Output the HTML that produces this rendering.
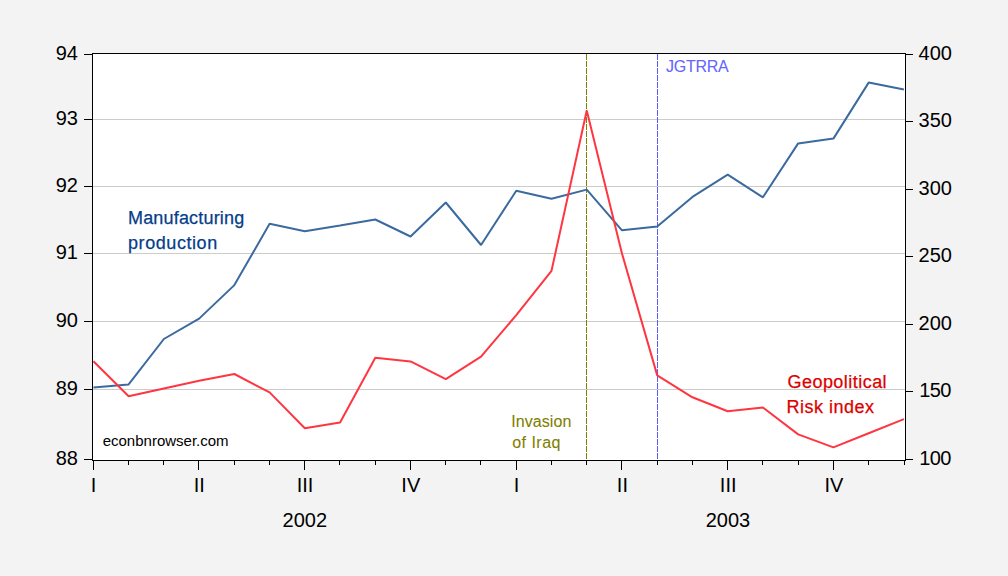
<!DOCTYPE html><html><head><meta charset="utf-8"><style>html,body{margin:0;padding:0;background:#f3f3f3;width:1008px;height:576px;overflow:hidden}svg{display:block}text{font-family:"Liberation Sans",sans-serif}</style></head><body>
<svg width="1008" height="576" viewBox="0 0 1008 576">
<rect x="0" y="0" width="1008" height="576" fill="#f3f3f3"/>
<rect x="92" y="53" width="814" height="408" fill="#ffffff"/>
<path d="M93 119.5H905 M93 186.5H905 M93 253.5H905 M93 321.5H905 M93 389.5H905" stroke="#cccccc" stroke-width="1" fill="none" shape-rendering="crispEdges"/>
<path d="M586.5 54V460" stroke="#808000" stroke-width="1" stroke-dasharray="6 1" fill="none" shape-rendering="crispEdges"/>
<path d="M657.5 54V460" stroke="#5a5aff" stroke-width="1" stroke-dasharray="6 1" fill="none" shape-rendering="crispEdges"/>
<svg x="92" y="53" width="814" height="408" viewBox="92 53 814 408" overflow="hidden">
<polyline points="93.40,387.50 128.64,384.40 163.88,339.00 199.12,318.60 234.36,285.10 269.60,223.80 304.83,231.25 340.07,225.50 375.31,219.50 410.55,236.50 445.79,202.50 481.03,245.00 516.27,190.80 551.51,198.80 586.75,189.60 621.98,230.30 657.22,226.50 692.46,196.90 727.70,174.70 762.94,197.30 798.18,143.40 833.42,138.60 868.66,82.60 903.90,89.50" fill="none" stroke="#3b6a9f" stroke-width="2" stroke-linejoin="bevel"/>
<polyline points="93.40,361.30 128.64,396.30 163.88,388.40 199.12,380.80 234.36,374.00 269.60,392.40 304.83,428.20 340.07,422.50 375.31,357.80 410.55,361.40 445.79,379.10 481.03,356.70 516.27,315.10 551.51,270.80 586.75,110.50 621.98,253.50 657.22,375.40 692.46,397.30 727.70,411.25 762.94,407.50 798.18,434.40 833.42,447.40 868.66,433.20 903.90,419.10" fill="none" stroke="#ff3641" stroke-width="2" stroke-linejoin="bevel"/>
</svg>
<path d="M92.5 53.5H905.5V460.5H92.5Z M84 54.5H92 M84 119.5H92 M84 186.5H92 M84 253.5H92 M84 321.5H92 M84 389.5H92 M84 459.5H92 M906 54.5H913 M906 121.5H913 M906 189.5H913 M906 256.5H913 M906 324.5H913 M906 391.5H913 M906 459.5H913 M93.5 461V470 M128.5 461V465 M163.5 461V465 M198.5 461V470 M234.5 461V465 M269.5 461V465 M304.5 461V470 M339.5 461V465 M375.5 461V465 M410.5 461V470 M445.5 461V465 M480.5 461V465 M516.5 461V470 M551.5 461V465 M586.5 461V465 M621.5 461V470 M657.5 461V465 M692.5 461V465 M727.5 461V470 M762.5 461V465 M798.5 461V465 M833.5 461V470 M868.5 461V465 M904.5 461V465" stroke="#000" stroke-width="1" fill="none" shape-rendering="crispEdges"/>
<text x="78" y="60" font-size="20" text-anchor="end" fill="#000">94</text>
<text x="78" y="125" font-size="20" text-anchor="end" fill="#000">93</text>
<text x="78" y="192" font-size="20" text-anchor="end" fill="#000">92</text>
<text x="78" y="259" font-size="20" text-anchor="end" fill="#000">91</text>
<text x="78" y="327" font-size="20" text-anchor="end" fill="#000">90</text>
<text x="78" y="395" font-size="20" text-anchor="end" fill="#000">89</text>
<text x="78" y="465" font-size="20" text-anchor="end" fill="#000">88</text>
<text x="918.6" y="60" font-size="20" fill="#000">400</text>
<text x="918.6" y="127" font-size="20" fill="#000">350</text>
<text x="918.6" y="195" font-size="20" fill="#000">300</text>
<text x="918.6" y="262" font-size="20" fill="#000">250</text>
<text x="918.6" y="330" font-size="20" fill="#000">200</text>
<text x="919.2" y="397" font-size="20" letter-spacing="-0.6" fill="#000">150</text>
<text x="919.2" y="465" font-size="20" letter-spacing="-0.6" fill="#000">100</text>
<text x="93.5" y="492" font-size="20" text-anchor="middle" fill="#000">I</text>
<text x="199.3" y="492" font-size="20" text-anchor="middle" fill="#000">II</text>
<text x="305.1" y="492" font-size="20" text-anchor="middle" fill="#000">III</text>
<text x="410.8" y="492" font-size="20" text-anchor="middle" fill="#000">IV</text>
<text x="516.6" y="492" font-size="20" text-anchor="middle" fill="#000">I</text>
<text x="622.4" y="492" font-size="20" text-anchor="middle" fill="#000">II</text>
<text x="728.2" y="492" font-size="20" text-anchor="middle" fill="#000">III</text>
<text x="834.0" y="492" font-size="20" text-anchor="middle" fill="#000">IV</text>
<text x="304.8" y="527" font-size="20" text-anchor="middle" fill="#000">2002</text>
<text x="728" y="527" font-size="20" text-anchor="middle" fill="#000">2003</text>
<text x="128" y="224" font-size="18" letter-spacing="0.18" fill="#053d8a" stroke="#053d8a" stroke-width="0.25">Manufacturing</text>
<text x="128" y="248.7" font-size="18" letter-spacing="0.57" fill="#053d8a" stroke="#053d8a" stroke-width="0.25">production</text>
<text x="787.5" y="387.8" font-size="18" letter-spacing="0.46" fill="#dd0000" stroke="#dd0000" stroke-width="0.25">Geopolitical</text>
<text x="786.6" y="412.7" font-size="18" letter-spacing="0.49" fill="#dd0000" stroke="#dd0000" stroke-width="0.25">Risk index</text>
<text x="511.2" y="426.7" font-size="16" letter-spacing="0.08" fill="#808000" stroke="#808000" stroke-width="0.08">Invasion</text>
<text x="512.2" y="447.8" font-size="16" letter-spacing="0.48" fill="#808000" stroke="#808000" stroke-width="0.08">of Iraq</text>
<text x="666.1" y="71.7" font-size="16" letter-spacing="-0.3" fill="#6464ff" stroke="#6464ff" stroke-width="0.08">JGTRRA</text>
<text x="102.7" y="446" font-size="15" fill="#000">econbnrowser.com</text>
</svg></body></html>
